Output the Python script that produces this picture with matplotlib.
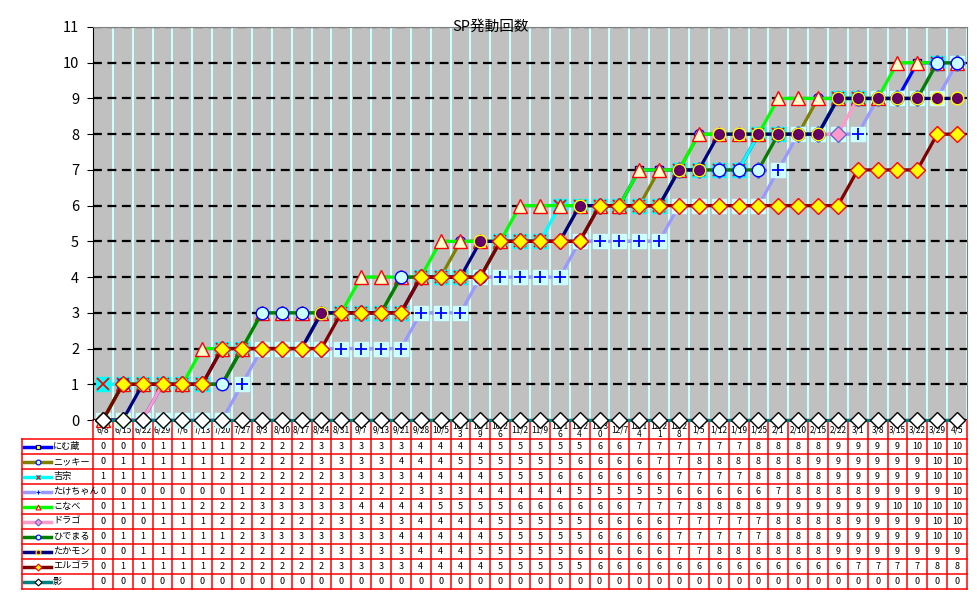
import numpy as np
import matplotlib.pyplot as plt
import matplotlib.transforms as mtransforms
from matplotlib.lines import Line2D

plt.rcParams['font.family'] = ['Noto Sans CJK JP', 'DejaVu Sans']

dates = ['6/8', '6/15', '6/22', '6/29', '7/6', '7/13', '7/20', '7/27', '8/3', '8/10', '8/17', '8/24',
         '8/31', '9/7', '9/13', '9/21', '9/28', '10/5', '10/13', '10/19', '10/26', '11/2', '11/9', '11/16',
         '11/24', '11/30', '12/7', '12/14', '12/21', '12/28', '1/5', '1/12', '1/19', '1/25', '2/1', '2/10',
         '2/15', '2/22', '3/1', '3/8', '3/15', '3/22', '3/29', '4/5']

names = ['にむ蔵', 'ニッキー', '吉宗', 'たけちゃん', 'こなべ', 'ドラゴ', 'ひでまる', 'たかモン', 'エルゴラ', '影']

nimuzo = [0, 0, 0, 1, 1, 1, 1, 2, 2, 2, 2, 3, 3, 3, 3, 3, 4, 4, 4, 4, 5, 5, 5, 5, 5, 6, 6, 7,
          7, 7, 7, 7, 7, 8, 8, 8, 8, 9, 9, 9, 9, 10, 10, 10]
nikki = [0, 1, 1, 1, 1, 1, 1, 2, 2, 2, 2, 3, 3, 3, 3, 4, 4, 4, 5, 5, 5, 5, 5, 5, 6, 6, 6, 6,
         7, 7, 8, 8, 8, 8, 8, 8, 9, 9, 9, 9, 9, 9, 10, 10]
yoshimune = [1, 1, 1, 1, 1, 1, 2, 2, 2, 2, 2, 2, 3, 3, 3, 3, 4, 4, 4, 4, 5, 5, 5, 6, 6, 6, 6, 6,
             6, 7, 7, 7, 7, 8, 8, 8, 8, 9, 9, 9, 9, 9, 10, 10]
takechan = [0, 0, 0, 0, 0, 0, 0, 1, 2, 2, 2, 2, 2, 2, 2, 2, 3, 3, 3, 4, 4, 4, 4, 4, 5, 5, 5, 5,
            5, 6, 6, 6, 6, 6, 7, 8, 8, 8, 8, 9, 9, 9, 9, 10]
konabe = [0, 1, 1, 1, 1, 2, 2, 2, 3, 3, 3, 3, 3, 4, 4, 4, 4, 5, 5, 5, 5, 6, 6, 6, 6, 6, 6, 7,
          7, 7, 8, 8, 8, 8, 9, 9, 9, 9, 9, 9, 10, 10, 10, 10]
drago = [0, 0, 0, 1, 1, 1, 2, 2, 2, 2, 2, 2, 3, 3, 3, 3, 4, 4, 4, 4, 5, 5, 5, 5, 5, 6, 6, 6,
         6, 7, 7, 7, 7, 7, 8, 8, 8, 8, 9, 9, 9, 9, 10, 10]
hidemaru = [0, 1, 1, 1, 1, 1, 1, 2, 3, 3, 3, 3, 3, 3, 3, 4, 4, 4, 4, 4, 5, 5, 5, 5, 5, 6, 6, 6,
            6, 7, 7, 7, 7, 7, 8, 8, 8, 9, 9, 9, 9, 9, 10, 10]
takamon = [0, 0, 1, 1, 1, 1, 2, 2, 2, 2, 2, 3, 3, 3, 3, 3, 4, 4, 4, 5, 5, 5, 5, 5, 6, 6, 6, 6,
           6, 7, 7, 8, 8, 8, 8, 8, 8, 9, 9, 9, 9, 9, 9, 9]
erugora = [0, 1, 1, 1, 1, 1, 2, 2, 2, 2, 2, 2, 3, 3, 3, 3, 4, 4, 4, 4, 5, 5, 5, 5, 5, 6, 6, 6,
           6, 6, 6, 6, 6, 6, 6, 6, 6, 6, 7, 7, 7, 7, 8, 8]
kage = [0] * 44

series = [nimuzo, nikki, yoshimune, takechan, konabe, drago, hidemaru, takamon, erugora, kage]

# line colour, marker, face, edge, size, overlay marker, overlay colour
styles = [
    ('#0000FF', 's', '#FFFF00', '#000080', 6, None, None),
    ('#808000', 'o', '#CCFFFF', '#0000FF', 7, None, None),
    ('#00FFFF', 's', '#00FFFF', '#00FFFF', 10, 'x', '#FF0000'),
    ('#9999FF', 's', '#CCFFFF', '#CCFFFF', 10, '+', '#0000FF'),
    ('#00FF00', '^', '#FFFFCC', '#FF0000', 10, None, None),
    ('#FF99CC', 'D', '#FF99CC', '#6666CC', 8, None, None),
    ('#008000', 'o', '#CCFFFF', '#0000FF', 9, None, None),
    ('#000080', 'o', '#660066', '#FFFF00', 9, None, None),
    ('#800000', 'D', '#FFFF00', '#FF0000', 8, None, None),
    ('#008080', 'D', '#FFFFFF', '#000000', 8, None, None),
]

W, H = 977, 600
fig = plt.figure(figsize=(W / 100, H / 100), dpi=100)
ax_l, ax_r, ax_t, ax_b = 93, 967, 27, 420
ax = fig.add_axes([ax_l / W, 1 - ax_b / H, (ax_r - ax_l) / W, (ax_b - ax_t) / H])
ax.set_facecolor('#C0C0C0')

x = np.arange(len(dates))
for k, (vals, st) in enumerate(zip(series, styles)):
    col, mk, fc, ec, ms, ov, ovc = st
    ax.plot(x, vals, color=col, lw=2.3, marker=mk, ms=ms, mfc=fc, mec=ec, mew=1,
            zorder=3 + k, clip_on=False)
    if ov:
        ax.plot(x, vals, ls='none', marker=ov, ms=ms - 1, color=ovc, mew=1.3,
                zorder=3.5 + k, clip_on=False)

ax.set_xlim(-0.5, len(dates) - 0.5)
ax.set_ylim(0, 11)
ax.set_yticks(range(12))
ax.tick_params(axis='y', length=4, pad=6, labelsize=10.5)
ax.set_xticks([])
ax.set_xticks(np.arange(-0.5, len(dates)), minor=True)
ax.tick_params(axis='x', which='both', length=0, labelbottom=False)
ax.grid(which='minor', axis='x', color='#CCFFFF', lw=1.5)
ax.grid(which='major', axis='y', color='black', lw=1.6, ls=(0, (4, 2.5)))
ax.set_axisbelow(True)
for s in ['top', 'right']:
    ax.spines[s].set_color('#808080')
ax.spines['bottom'].set_visible(False)
ax.spines['left'].set_color('black')

ax.text(0.455, 1.0, 'SP発動回数', transform=ax.transAxes, ha='center', va='center', fontsize=10.5)

# --- data table below the plot ---
tr = mtransforms.blended_transform_factory(ax.transData, fig.transFigure)
red = '#FF0000'
head_bot = 439
row_h = 15
n_rows = len(names)
tab_bot = head_bot + row_h * n_rows

def fy(p):
    return 1 - p / H

for i, d in enumerate(dates):
    lab = d if len(d) <= 4 else d[:4] + '\n' + d[4:]
    ax.text(i, fy((ax_b + head_bot) / 2 + 1), lab, transform=tr, ha='center', va='center',
            fontsize=6, linespacing=0.95)

for b in np.arange(-0.5, len(dates)):
    ax.add_line(Line2D([b, b], [fy(ax_b), fy(tab_bot)], transform=tr, color=red, lw=1.1, clip_on=False))
fig.add_artist(Line2D([22 / W, 22 / W], [fy(head_bot), fy(tab_bot)], color=red, lw=1.1))
for r in range(n_rows + 1):
    yy = fy(head_bot + r * row_h)
    fig.add_artist(Line2D([22 / W, ax_r / W], [yy, yy], color=red, lw=1.1))

for r, (nm, vals, st) in enumerate(zip(names, series, styles)):
    col, mk, fc, ec, ms, ov, ovc = st
    yc = fy(head_bot + r * row_h + row_h / 2)
    fig.add_artist(Line2D([24 / W, 51 / W], [yc, yc], color=col, lw=2.5))
    fig.add_artist(Line2D([37.5 / W], [yc], marker=mk, ms=3.5, mfc=fc, mec=ec, mew=0.8, ls='none'))
    if ov:
        fig.add_artist(Line2D([37.5 / W], [yc], marker=ov, ms=3.5, color=ovc, mew=0.8, ls='none'))
    fig.text(53 / W, yc, nm, ha='left', va='center', fontsize=6.6)
    for i, v in enumerate(vals):
        ax.text(i, yc, str(v), transform=tr, ha='center', va='center', fontsize=6.5)

fig.savefig('out.png', dpi=100, facecolor='white')
